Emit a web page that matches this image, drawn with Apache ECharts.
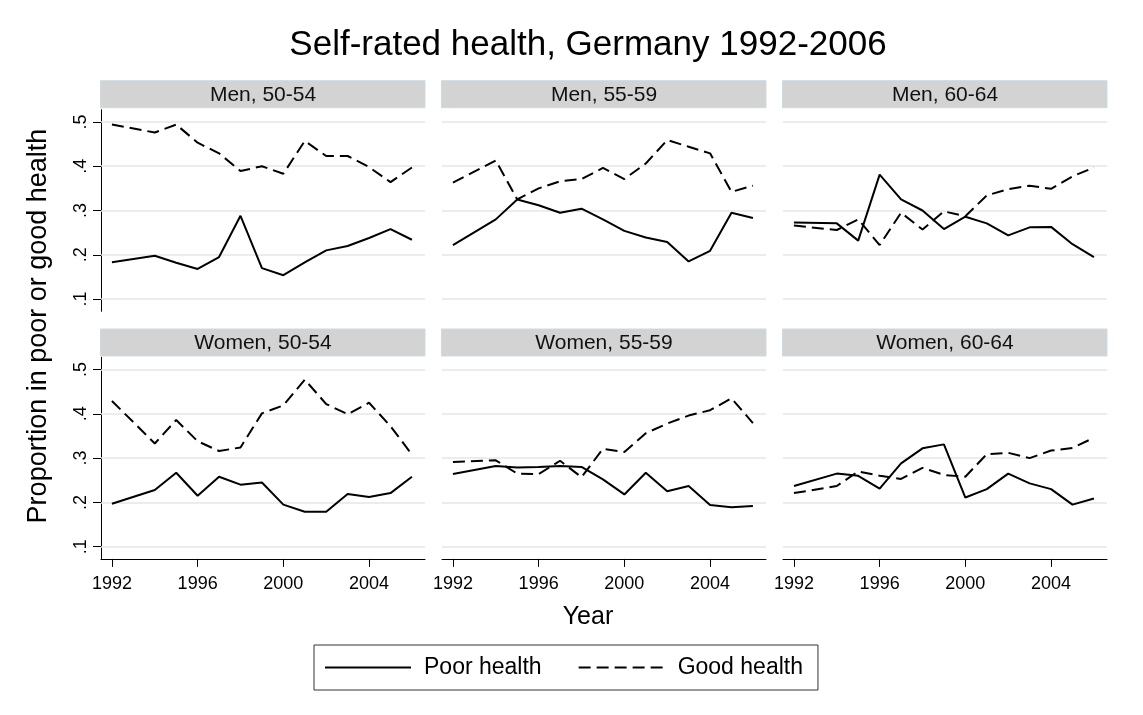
<!DOCTYPE html>
<html>
<head>
<meta charset="utf-8">
<script src="https://cdn.jsdelivr.net/npm/echarts@6/dist/echarts.min.js"></script>
<style>
html,body{margin:0;padding:0;background:#fff;}
#chart{width:1143px;height:715px;}
</style>
</head>
<body>
<div id="chart"></div>
<script>
// ---- data ----
const years = [1992,1994,1995,1996,1997,1998,1999,2000,2001,2002,2003,2004,2005,2006];
const xTicks = [1992,1996,2000,2004];
const yTicks = [0.1,0.2,0.3,0.4,0.5];
const panelTitles = ['Men, 50-54','Men, 55-59','Men, 60-64','Women, 50-54','Women, 55-59','Women, 60-64'];
const seriesNames = ['Poor health','Good health'];

const men5054Poor   = [.183,.198,.182,.168,.195,.288,.170,.154,.183,.210,.220,.238,.258,.234];
const men5054Good   = [.494,.476,.494,.453,.429,.389,.400,.383,.457,.423,.423,.398,.364,.397];
const men5559Poor   = [.222,.280,.325,.312,.295,.304,.280,.254,.239,.229,.185,.209,.295,.283];
const men5559Good   = [.363,.413,.325,.350,.366,.371,.396,.371,.406,.459,.444,.429,.342,.356];
const men6064Poor   = [.273,.271,.232,.381,.325,.300,.258,.286,.271,.244,.262,.263,.224,.195];
const men6064Good   = [.266,.256,.280,.222,.295,.257,.298,.287,.334,.348,.356,.349,.377,.397];
const women5054Poor = [.197,.228,.267,.215,.258,.240,.245,.195,.179,.179,.219,.212,.221,.258];
const women5054Good = [.429,.333,.386,.338,.316,.324,.401,.419,.477,.422,.399,.425,.372,.308];
const women5559Poor = [.264,.282,.279,.280,.282,.280,.252,.218,.267,.225,.237,.194,.189,.192];
const women5559Good = [.291,.295,.265,.264,.294,.257,.321,.314,.356,.378,.396,.408,.435,.379];
const women6064Poor = [.237,.265,.260,.231,.288,.322,.331,.211,.230,.265,.243,.230,.195,.209];
const women6064Good = [.221,.237,.270,.260,.253,.278,.262,.258,.309,.312,.300,.317,.323,.346];

const poorData = [men5054Poor, men5559Poor, men6064Poor, women5054Poor, women5559Poor, women6064Poor];
const goodData = [men5054Good, men5559Good, men6064Good, women5054Good, women5559Good, women6064Good];

// ---- layout ----
const FONT = '"Liberation Sans", Arial, Helvetica, sans-serif';
const colLeft = [101, 442, 783];
const panelW = 324;
const rowTop = [109.7, 357.3];
const panelH = 201.6;
const headerTop = [80.7, 329];
const headerH = 27;

const grids = [], xAxes = [], yAxes = [], series = [], graphics = [];
const fmt = v => String(v).replace(/^0/, '');

for (let i = 0; i < 6; i++) {
  const r = Math.floor(i / 3), c = i % 3;
  grids.push({ left: colLeft[c], top: rowTop[r], width: panelW, height: panelH, containLabel: false });
  const bottomRow = r === 1;
  xAxes.push({
    type: 'value', gridIndex: i, min: 1991.49, max: 2006.61,
    show: true,
    axisLine: { show: bottomRow, onZero: false, lineStyle: { color: '#000', width: 1 } },
    axisTick: { show: bottomRow, inside: false, length: 8, lineStyle: { color: '#000', width: 1 }, customValues: xTicks },
    axisLabel: { show: bottomRow, customValues: xTicks, fontSize: 18, color: '#000', fontFamily: FONT, margin: 16, formatter: v => String(v) },
    splitLine: { show: false }
  });
  const leftCol = c === 0;
  yAxes.push({
    type: 'value', gridIndex: i, min: 0.0725, max: 0.5275,
    axisLine: { show: leftCol, lineStyle: { color: '#000', width: 1 } },
    axisTick: { show: leftCol, inside: false, length: 8, lineStyle: { color: '#000', width: 1 }, customValues: yTicks },
    axisLabel: { show: leftCol, customValues: yTicks, rotate: 90, fontSize: 18, color: '#000', fontFamily: FONT, margin: 11, formatter: v => fmt(Math.round(v * 10) / 10) },
    splitLine: { show: false }
  });
  series.push({
    name: seriesNames[0], type: 'line', xAxisIndex: i, yAxisIndex: i,
    data: years.map((y, k) => [y, poorData[i][k]]),
    symbol: 'none', z: 3,
    lineStyle: { color: '#000', width: 2, type: 'solid' },
    itemStyle: { color: '#000' },
    silent: true,
    markLine: {
      silent: true, symbol: 'none', z: 1, animation: false,
      label: { show: false },
      lineStyle: { color: '#e6e6e6', width: 1.6, type: 'solid' },
      data: yTicks.map(v => ({ yAxis: v }))
    }
  });
  series.push({
    name: seriesNames[1], type: 'line', xAxisIndex: i, yAxisIndex: i,
    data: years.map((y, k) => [y, goodData[i][k]]),
    symbol: 'none', z: 3,
    lineStyle: { color: '#000', width: 2, type: [12, 6] },
    itemStyle: { color: '#000' },
    silent: true
  });
  // panel header
  graphics.push({
    type: 'rect', silent: true,
    shape: { x: colLeft[c] - 0.5, y: headerTop[r], width: panelW + 0.5, height: headerH },
    style: { fill: '#d3d3d3', stroke: '#cbdbe4', lineWidth: 1 }
  });
  graphics.push({
    type: 'text', silent: true,
    x: colLeft[c] + panelW / 2, y: headerTop[r] + headerH / 2 + 1,
    style: { text: panelTitles[i], font: '21px ' + FONT, fill: '#111', align: 'center', verticalAlign: 'middle' }
  });
}

// axis titles
graphics.push({
  type: 'text', silent: true, x: 588, y: 617,
  style: { text: 'Year', font: '25px ' + FONT, fill: '#000', align: 'center', verticalAlign: 'middle' }
});
graphics.push({
  type: 'text', silent: true, x: 39, y: 326, rotation: Math.PI / 2,
  style: { text: 'Proportion in poor or good health', font: '27px ' + FONT, fill: '#000', align: 'center', verticalAlign: 'middle' }
});

const option = {
  backgroundColor: '#fff',
  animation: false,
  title: {
    text: 'Self-rated health, Germany 1992-2006',
    left: 588, top: 28, textAlign: 'center', padding: 0,
    textStyle: { fontSize: 35, fontWeight: 'normal', color: '#000', fontFamily: FONT }
  },
  legend: {
    data: seriesNames,
    left: 314, top: 645,
    orient: 'horizontal',
    padding: [11, 15, 11, 10],
    itemWidth: 86, itemHeight: 14, itemGap: 36,
    borderColor: '#333', borderWidth: 1, borderRadius: 0,
    selectedMode: false,
    itemStyle: { opacity: 0 },
    textStyle: { fontSize: 23, color: '#000', fontFamily: FONT, padding: [0, 0, 0, 8] }
  },
  grid: grids,
  xAxis: xAxes,
  yAxis: yAxes,
  series: series,
  graphic: graphics
};

const chart = echarts.init(document.getElementById('chart'), null, { renderer: 'canvas' });
chart.setOption(option);
</script>
</body>
</html>
